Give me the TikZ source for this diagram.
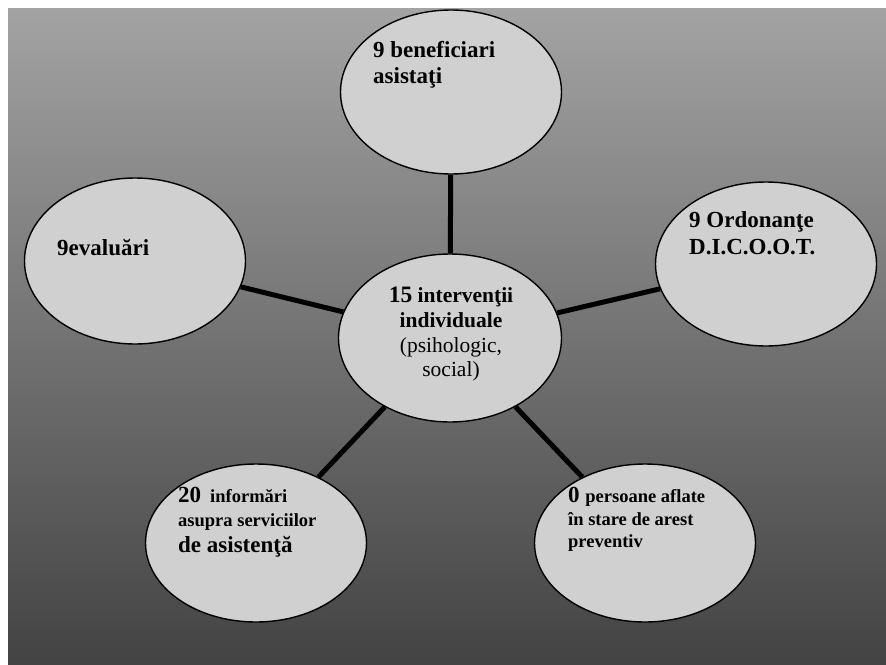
\documentclass[tikz,border=0pt]{standalone}
\usepackage{fontspec}
\setmainfont{Liberation Serif}
\usetikzlibrary{shapes.geometric}
\definecolor{bgtop}{HTML}{A3A3A3}
\definecolor{bgbot}{HTML}{434343}
\definecolor{ellfill}{HTML}{D0D0D0}
\tikzset{
  bubble/.style={ellipse, draw=black, line width=1.4pt, fill=ellfill,
    minimum width=221pt, minimum height=164pt, inner sep=0pt},
  conn/.style={draw=black, line width=5pt},
  lbl/.style={anchor=base west, inner sep=0pt, font=\bfseries\fontsize{23}{27}\selectfont},
  lblc/.style={anchor=base, inner sep=0pt, font=\bfseries\fontsize{21.5}{25}\selectfont},
  small/.style={anchor=base west, inner sep=0pt, font=\bfseries\fontsize{18.5}{22}\selectfont},
}
\begin{document}
\begin{tikzpicture}[x=1pt,y=-1pt]
\useasboundingbox (0,0) rectangle (886,664);
\shade[top color=bgtop, bottom color=bgbot] (8,8) rectangle (886,664);

\node[bubble] (top) at (451,92) {};
\node[bubble] (right) at (766,264) {};
\node[bubble, minimum height=166pt] (left) at (135,261) {};
\node[bubble, minimum width=223pt, minimum height=168pt] (center) at (450,338) {};
\node[bubble, minimum height=158pt] (bl) at (256,543) {};
\node[bubble, minimum height=158pt] (br) at (645,543) {};

\draw[conn] (center) -- (top);
\draw[conn] (center) -- (left);
\draw[conn] (center) -- (right);
\draw[conn] (center) -- (bl);
\draw[conn] (center) -- (br);

\node[lbl] (t1) at (373,57) {9 beneficiari};
\node[lbl] (t2) at (373,83) {asistaţi};

\node[lbl] (r1) at (689,227) {9 Ordonanţe};
\node[lbl] (r2) at (689,254) {D.I.C.O.O.T.};

\node[lbl] (l1) at (57,255) {9evaluări};

\node[lblc] (c1) at (451,302) {{\fontsize{23.5}{27}\selectfont 15} intervenţii};
\node[lblc] (c2) at (451,327) {individuale};
\node[lblc, font=\fontsize{21.5}{25}\selectfont] (c3) at (451,352) {(psihologic,};
\node[lblc, font=\fontsize{21.5}{25}\selectfont] (c4) at (451,376) {social)};

\node[lbl] (b1) at (178,502) {20\hspace{9pt}{\fontsize{18.5}{22}\selectfont informări}};
\node[small] (b2) at (178,526) {asupra serviciilor};
\node[lbl] (b3) at (178,552) {de asistenţă};

\node[lbl] (d1) at (568,502) {0 {\fontsize{18.5}{22}\selectfont persoane aflate}};
\node[small] (d2) at (568,525) {în stare de arest};
\node[small] (d3) at (568,547) {preventiv};
\end{tikzpicture}
\end{document}
